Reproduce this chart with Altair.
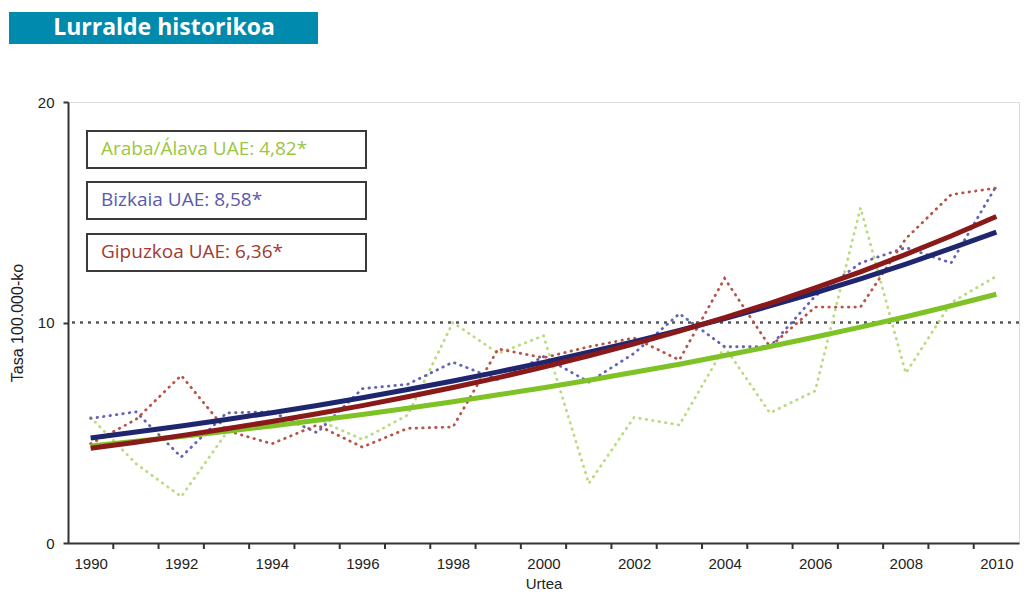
import altair as alt
import pandas as pd

years = list(range(1990, 2011))

araba_obs = [5.7, 3.6, 2.1, 5.0, 5.3, 5.6, 4.7, 5.8, 10.0, 8.6, 9.4, 2.7, 5.7, 5.35, 8.9, 5.9, 6.9, 15.2, 7.7, 10.9, 12.1]
bizkaia_obs = [5.65, 5.95, 3.9, 5.9, 5.95, 5.0, 7.0, 7.2, 8.2, 7.4, 8.45, 7.3, 8.6, 10.4, 8.9, 8.9, 11.2, 12.7, 13.4, 12.7, 16.2]
gipuzkoa_obs = [4.5, 5.6, 7.6, 5.1, 4.5, 5.35, 4.35, 5.2, 5.26, 8.8, 8.4, 8.9, 9.3, 8.3, 12.0, 8.9, 10.7, 10.7, 13.8, 15.8, 16.1]

araba_trend = [4.40, 4.61, 4.83, 5.07, 5.31, 5.57, 5.83, 6.11, 6.41, 6.72, 7.04, 7.38, 7.74, 8.11, 8.50, 8.91, 9.34, 9.79, 10.26, 10.76, 11.28]
bizkaia_trend = [4.76, 5.03, 5.31, 5.60, 5.91, 6.24, 6.59, 6.96, 7.35, 7.76, 8.19, 8.65, 9.13, 9.64, 10.18, 10.75, 11.35, 11.98, 12.65, 13.36, 14.10]
gipuzkoa_trend = [4.30, 4.57, 4.87, 5.18, 5.51, 5.86, 6.23, 6.63, 7.05, 7.50, 7.98, 8.49, 9.03, 9.61, 10.22, 10.87, 11.57, 12.30, 13.09, 13.92, 14.81]

legend_labels = ["Araba/Álava UAE: 4,82*", "Bizkaia UAE: 8,58*", "Gipuzkoa UAE: 6,36*"]
x_label_years = [1990, 1992, 1994, 1996, 1998, 2000, 2002, 2004, 2006, 2008, 2010]
x_tick_marks = [1990.5, 1991.5, 1992.5, 1993.5, 1994.5, 1995.5, 1996.5, 1997.5, 1998.5, 1999.5,
                2000.5, 2001.5, 2002.5, 2003.5, 2004.5, 2005.5, 2006.5, 2007.5, 2008.5, 2009.5]
y_ticks = [0, 10, 20]
reference_level = [10]

W, H = 951, 441
AXFONT = "Liberation Sans"

xscale = alt.Scale(domain=[1989.5, 2010.5], nice=False, zero=False)
yscale = alt.Scale(domain=[0, 20], nice=False)

series = [
    ("Araba", araba_obs, araba_trend, "#bcdb80", "#7fc225", "#9cc640"),
    ("Bizkaia", bizkaia_obs, bizkaia_trend, "#6464b6", "#1f2670", "#5a5aae"),
    ("Gipuzkoa", gipuzkoa_obs, gipuzkoa_trend, "#b65448", "#8a1a1a", "#a23a30"),
]

x_axis = alt.Axis(values=x_label_years, format="d", ticks=False, labelPadding=13,
                  labelFont=AXFONT, labelFontSize=15, labelColor="#222",
                  title="Urtea", titleFont=AXFONT, titleFontSize=15,
                  titleFontWeight="normal", titleColor="#222", titlePadding=5,
                  domainColor="#333", domainWidth=2, grid=False)
y_axis = alt.Axis(values=y_ticks, tickSize=5, tickColor="#333", tickWidth=2, labelPadding=9,
                  labelFont=AXFONT, labelFontSize=15, labelColor="#222",
                  title="Tasa 100.000-ko", titleFont=AXFONT, titleFontSize=16,
                  titleFontWeight="normal", titleColor="#222", titlePadding=12,
                  domainColor="#333", domainWidth=2, grid=False)

layers = []

# reference dotted line at 10
ref_df = pd.DataFrame({"v": reference_level})
layers.append(alt.Chart(ref_df).mark_rule(color="#555", strokeWidth=2.5, strokeDash=[3, 5]).encode(
    y=alt.Y("v:Q", scale=yscale, axis=y_axis)))

# observed dotted series
for name, obs, trend, dcol, scol, tcol in series:
    df = pd.DataFrame({"year": years, "value": obs})
    layers.append(alt.Chart(df).mark_line(color=dcol, strokeWidth=2.8, strokeDash=[0.5, 6], strokeCap="round").encode(
        x=alt.X("year:Q", scale=xscale, axis=x_axis),
        y=alt.Y("value:Q", scale=yscale, axis=y_axis)))

# trend lines
for name, obs, trend, dcol, scol, tcol in series:
    df = pd.DataFrame({"year": years, "value": trend})
    layers.append(alt.Chart(df).mark_line(color=scol, strokeWidth=5).encode(
        x=alt.X("year:Q", scale=xscale, axis=x_axis),
        y=alt.Y("value:Q", scale=yscale, axis=y_axis)))

# x tick marks between years
tick_df = pd.DataFrame({"t": x_tick_marks})
layers.append(alt.Chart(tick_df).mark_rule(color="#333", strokeWidth=2).encode(
    x=alt.X("t:Q", scale=xscale, axis=x_axis),
    y=alt.value(H), y2=alt.value(H + 6)))

# legend boxes
one = pd.DataFrame({"a": [0]})
box_tops = [29, 80, 132]
for (name, obs, trend, dcol, scol, tcol), label, top in zip(series, legend_labels, box_tops):
    layers.append(alt.Chart(one).mark_rect(fill="white", stroke="#3a3a3a", strokeWidth=2).encode(
        x=alt.value(19), x2=alt.value(298), y=alt.value(top), y2=alt.value(top + 37)))
    layers.append(alt.Chart(one).mark_text(text=label, color=tcol, font="Open Sans", fontSize=19,
                                           align="left", baseline="middle").encode(
        x=alt.value(33), y=alt.value(top + 18)))

# banner
layers.append(alt.Chart(one).mark_rect(fill="#008aad").encode(
    x=alt.value(-59), x2=alt.value(250), y=alt.value(-90), y2=alt.value(-58)))
layers.append(alt.Chart(one).mark_text(text="Lurralde historikoa", color="white", font="Open Sans",
                                       fontSize=23, fontWeight="bold", align="center",
                                       baseline="middle").encode(
    x=alt.value(96), y=alt.value(-74)))

chart = alt.layer(*layers).properties(
    width=W, height=H,
    autosize=alt.AutoSizeParams(type="none"),
    padding={"left": 60, "top": 94, "right": 1, "bottom": 50},
).configure_view(stroke="#333", strokeWidth=2).configure(background="white")

chart.save("out.html", embed_options={"renderer": "svg", "actions": False})
